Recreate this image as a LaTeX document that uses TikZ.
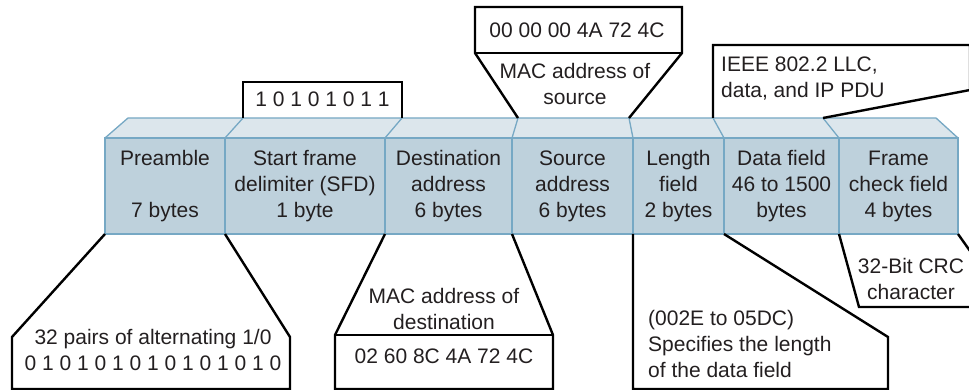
\documentclass[tikz,border=0pt]{standalone}
\usepackage{fontspec}
\setmainfont{Liberation Sans}
\definecolor{frontc}{RGB}{190,209,220}
\definecolor{topc}{RGB}{220,230,236}
\definecolor{edgec}{RGB}{118,168,196}
\definecolor{textc}{RGB}{35,31,32}
\begin{document}
\begin{tikzpicture}[x=1pt,y=-1pt,
  txt/.style={font=\fontsize{21}{26}\selectfont, text=textc, inner sep=0pt},
  field/.style={draw=edgec, line width=1.3pt, fill=frontc, minimum height=96pt, inner sep=0pt, align=center, txt},
  topface/.style={draw=edgec, line width=1.3pt, fill=topc, line join=round},
  divider/.style={draw=edgec, line width=1.3pt},
  call/.style={draw=black, line width=2.4pt, line join=miter}]
\useasboundingbox (0,0) rectangle (969,390);

% top face
\path[topface] (105,138) -- (128,118) -- (936,118) -- (958,138) -- cycle;
\draw[divider] (225,138) -- (243,118);
\draw[divider] (385,138) -- (402,118);
\draw[divider] (512,138) -- (518,118);
\draw[divider] (633,138) -- (629,118);
\draw[divider] (724,138) -- (713,118);
\draw[divider] (839,138) -- (823,118);

% front face fields
\node[field, minimum width=120pt] (pre) at (165,186) {\strut Preamble\\\strut\\\strut 7 bytes};
\node[field, minimum width=160pt] (sfd) at (305,186) {\strut Start frame\\\strut delimiter (SFD)\\\strut 1 byte};
\node[field, minimum width=127pt] (dst) at (448.5,186) {\strut Destination\\\strut address\\\strut 6 bytes};
\node[field, minimum width=121pt] (src) at (572.5,186) {\strut Source\\\strut address\\\strut 6 bytes};
\node[field, minimum width=91pt] (len) at (678.5,186) {\strut Length\\\strut field\\\strut 2 bytes};
\node[field, minimum width=115pt] (dat) at (781.5,186) {\strut Data field\\\strut 46 to 1500\\\strut bytes};
\node[field, minimum width=119pt] (fcs) at (898.5,186) {\strut Frame\\\strut check field\\\strut 4 bytes};

% callout: SFD
\draw[call] (243,118) -- (243,82) -- (402,82) -- (402,118);
\node[txt, anchor=base] (sfdbits) at (322.5,107) {1 0 1 0 1 0 1 1};

% callout: source
\draw[call] (518,118) -- (475,53) -- (475,7) -- (682,7) -- (682,53) -- (629,118);
\draw[call] (475,53) -- (682,53);
\node[txt, anchor=base] (srcaddr) at (577,38) {00 00 00 4A 72 4C};
\node[txt, anchor=north, align=center] (srclbl) at (575,59.8) {\strut MAC address of\\source};

% callout: data
\draw[call] (713,118) -- (713,45) -- (970,45) -- (970,90) -- (823,118);
\node[txt, anchor=north west, align=left] (datlbl) at (721,52.8) {\strut IEEE 802.2 LLC,\\data, and IP PDU};

% callout: preamble
\draw[call] (105,234) -- (12,337) -- (12,389) -- (290,389) -- (290,337) -- (225,234);
\node[txt, anchor=north, align=center] (prelbl) at (153,325.8) {\strut 32 pairs of alternating 1/0\\0 1 0 1 0 1 0 1 0 1 0 1 0 1 0};

% callout: destination
\draw[call] (385,234) -- (335,335) -- (335,389) -- (553,389) -- (553,335) -- (512,234);
\draw[call] (335,335) -- (553,335);
\node[txt, anchor=north, align=center] (dstlbl) at (444,284.8) {\strut MAC address of\\destination};
\node[txt, anchor=base] (dstaddr) at (444,363) {02 60 8C 4A 72 4C};

% callout: length
\draw[call] (633,234) -- (633,389) -- (888,389) -- (888,337) -- (724,234);
\node[txt, anchor=north west, align=left] (lenlbl) at (648,306.8) {\strut (002E to 05DC)\\Specifies the length\\of the data field};

% callout: FCS
\draw[call] (839,234) -- (859,307) -- (975,307);
\draw[call] (958,234) -- (975,258);
\node[txt, anchor=north, align=center] (fcslbl) at (911,254.8) {\strut 32-Bit CRC\\character};
\end{tikzpicture}
\end{document}
